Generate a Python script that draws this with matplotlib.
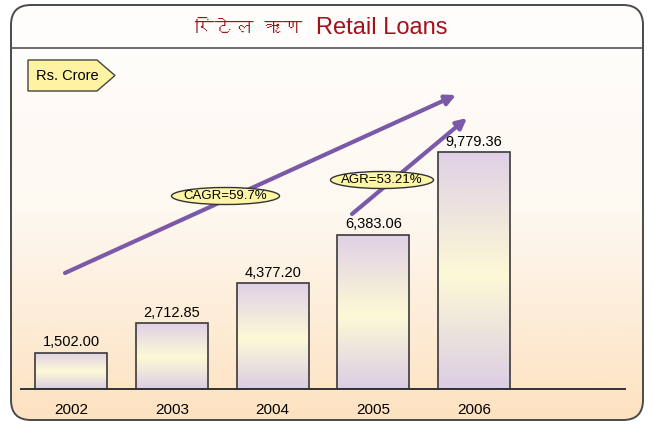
import numpy as np
import matplotlib
matplotlib.use("Agg")
import matplotlib.pyplot as plt
from matplotlib.patches import FancyBboxPatch, Polygon, Ellipse
from matplotlib.colors import LinearSegmentedColormap
from matplotlib import font_manager as fm
from matplotlib.ft2font import FT2Font

# ---- data ----
years = ["2002", "2003", "2004", "2005", "2006"]
loans = [1502.00, 2712.85, 4377.20, 6383.06, 9779.36]
title_hi = "रिटेल ऋण"
title_en = "Retail Loans"
unit_label = "Rs. Crore"
cagr_label = "CAGR=59.7%"
agr_label = "AGR=53.21%"


def find_font(ch):
    for f in fm.fontManager.ttflist:
        try:
            if ord(ch) in FT2Font(f.fname).get_charmap():
                return f.name
        except Exception:
            pass
    return None


deva = find_font("र")
hi_family = [deva, "DejaVu Sans"] if deva else ["DejaVu Sans"]
SANS = ["Liberation Sans", "DejaVu Sans"]

W, H = 653, 424
fig = plt.figure(figsize=(W / 100, H / 100), dpi=100)
fig.patch.set_facecolor("white")

# background axes in pixel coordinates
bg = fig.add_axes([0, 0, 1, 1])
bg.set_xlim(0, W)
bg.set_ylim(H, 0)
bg.axis("off")

box = FancyBboxPatch((11, 5), 632, 415, boxstyle="round,pad=0,rounding_size=20",
                     facecolor="none", edgecolor="#4a4a4a", lw=1.4, zorder=3)
bg.add_patch(box)
bgcmap = LinearSegmentedColormap.from_list("bgc", ["#fffefd", "#fdf8f0", "#fde2c0"])
grad = np.linspace(0, 1, 256).reshape(-1, 1)
im = bg.imshow(grad, cmap=bgcmap, extent=(11, 643, 420, 5), aspect="auto", zorder=1)
im.set_clip_path(box)
bg.set_xlim(0, W)
bg.set_ylim(H, 0)
bg.plot([11, 643], [48, 48], color="#555555", lw=1.2, zorder=3)

# title
bg.text(302, 28, title_hi, family=hi_family, fontsize=14, color="#a3121c",
        ha="right", va="center", zorder=4)
bg.text(316, 28, title_en, family=SANS, fontsize=17, color="#a3121c",
        ha="left", va="center", zorder=4)

# unit tag
tag = Polygon([(28, 60), (97, 60), (115, 75.5), (97, 91), (28, 91)], closed=True,
              facecolor="#fdf3a2", edgecolor="#444444", lw=1.0, zorder=4)
bg.add_patch(tag)
bg.text(67, 76, unit_label, family=SANS, fontsize=10.5, ha="center", va="center", zorder=5)

# bars axes
ax = fig.add_axes([21 / W, (H - 389) / H, (625 - 21) / W, 290.4 / H])
ax.patch.set_alpha(0)
x = np.arange(len(years))
bw = 0.715
bars = ax.bar(x, loans, width=bw, facecolor="none", edgecolor="#3a3a3a", lw=1.2, zorder=3)
barcmap = LinearSegmentedColormap.from_list(
    "barc", [(0, "#dccde4"), (0.48, "#fdf9d6"), (1, "#e0d0e6")])
for b in bars:
    bx, bwid, bh = b.get_x(), b.get_width(), b.get_height()
    g = ax.imshow(grad, cmap=barcmap, extent=(bx, bx + bwid, 0, bh), aspect="auto",
                  origin="lower", zorder=2)
    g.set_clip_path(b)
for xi, v in zip(x, loans):
    ax.annotate(f"{v:,.2f}", (xi, v), xytext=(0, 2.5), textcoords="offset points",
                ha="center", va="bottom", family=SANS, fontsize=10.5)
ax.set_xlim(-0.5, 5.5)
ax.set_ylim(0, 12000)
ax.set_xticks(x)
ax.set_xticklabels(years, family=SANS, fontsize=11)
ax.tick_params(axis="x", length=0, pad=10)
ax.set_yticks([])
for s in ["top", "right", "left"]:
    ax.spines[s].set_visible(False)
ax.spines["bottom"].set_color("#333333")
ax.spines["bottom"].set_linewidth(1.4)
ax.spines["bottom"].set_zorder(4)

# arrows and growth labels (pixel coords on overlay)
ov = fig.add_axes([0, 0, 1, 1])
ov.set_xlim(0, W)
ov.set_ylim(H, 0)
ov.axis("off")
arrow_kw = dict(arrowstyle="-|>,head_length=0.6,head_width=0.3", color="#7a5aa8",
                lw=3, shrinkA=0, shrinkB=0)
ov.annotate("", xy=(456, 95), xytext=(65, 273), arrowprops=arrow_kw, zorder=5)
ov.annotate("", xy=(467, 118), xytext=(352, 214), arrowprops=arrow_kw, zorder=5)
for cx, cy, w, lab in [(225.5, 196, 108, cagr_label), (382, 180, 103, agr_label)]:
    ov.add_patch(Ellipse((cx, cy), w, 17, facecolor="#fdf5a6", edgecolor="#333333",
                         lw=1.0, zorder=6))
    ov.text(cx, cy, lab, family=SANS, fontsize=9.5, ha="center", va="center", zorder=7)

fig.savefig("out.png", dpi=100)
